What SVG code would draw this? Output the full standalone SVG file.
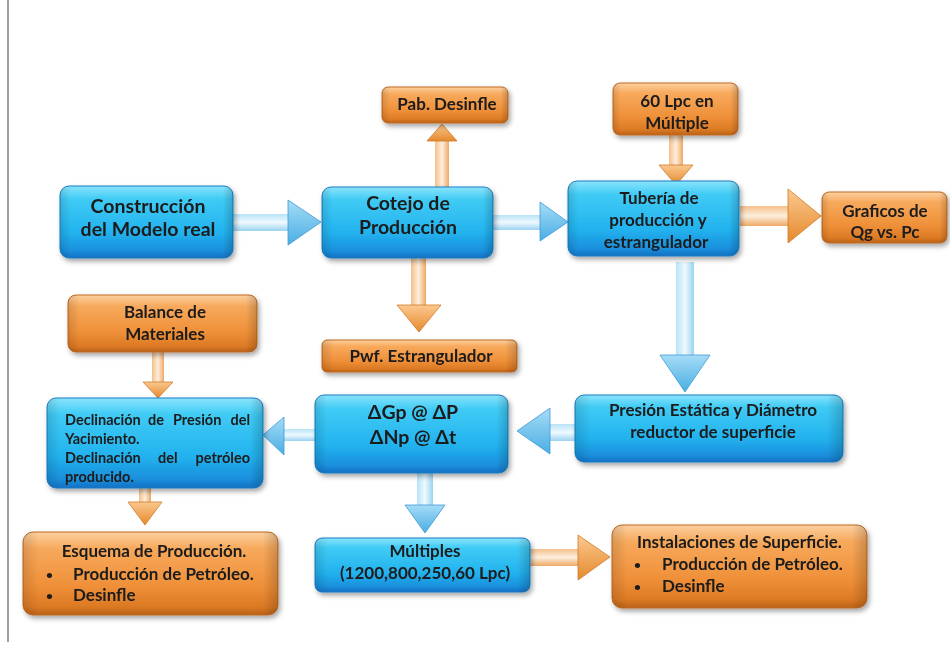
<svg xmlns="http://www.w3.org/2000/svg" width="950" height="649" viewBox="0 0 950 649">
<defs>
<linearGradient id="gBlue" x1="0" y1="0" x2="0" y2="1">
<stop offset="0" stop-color="#8ae4fc"/><stop offset="0.18" stop-color="#40cbf5"/><stop offset="0.65" stop-color="#22b2ee"/><stop offset="0.9" stop-color="#1a8fdc"/><stop offset="1" stop-color="#1670c4"/>
</linearGradient>
<linearGradient id="gOrange" x1="0" y1="0" x2="0" y2="1">
<stop offset="0" stop-color="#fcd0a0"/><stop offset="0.2" stop-color="#f7a95c"/><stop offset="0.65" stop-color="#ef9039"/><stop offset="0.9" stop-color="#dc7a24"/><stop offset="1" stop-color="#b9621a"/>
</linearGradient>
<linearGradient id="gEdge" x1="0" y1="0" x2="1" y2="0">
<stop offset="0" stop-color="#000" stop-opacity="0.12"/><stop offset="0.06" stop-color="#000" stop-opacity="0"/><stop offset="0.94" stop-color="#000" stop-opacity="0"/><stop offset="1" stop-color="#000" stop-opacity="0.18"/>
</linearGradient>
<linearGradient id="bShaftH" x1="0" y1="0" x2="0" y2="1">
<stop offset="0" stop-color="#b9e3f7"/><stop offset="0.5" stop-color="#eef9fe"/><stop offset="1" stop-color="#9ad3f0"/>
</linearGradient>
<linearGradient id="bShaftV" x1="0" y1="0" x2="1" y2="0">
<stop offset="0" stop-color="#b9e3f7"/><stop offset="0.5" stop-color="#eef9fe"/><stop offset="1" stop-color="#9ad3f0"/>
</linearGradient>
<linearGradient id="oShaftH" x1="0" y1="0" x2="0" y2="1">
<stop offset="0" stop-color="#f5c08a"/><stop offset="0.5" stop-color="#fdeedd"/><stop offset="1" stop-color="#eea864"/>
</linearGradient>
<linearGradient id="oShaftV" x1="0" y1="0" x2="1" y2="0">
<stop offset="0" stop-color="#f5c08a"/><stop offset="0.5" stop-color="#fdeedd"/><stop offset="1" stop-color="#eea864"/>
</linearGradient>
<linearGradient id="bHead" x1="0" y1="0" x2="0" y2="1">
<stop offset="0" stop-color="#a6dcf6"/><stop offset="1" stop-color="#4aaee4"/>
</linearGradient>
<linearGradient id="oHead" x1="0" y1="0" x2="0" y2="1">
<stop offset="0" stop-color="#fbc98f"/><stop offset="1" stop-color="#e5892d"/>
</linearGradient>
<filter id="sh" x="-10%" y="-20%" width="125%" height="150%">
<feDropShadow dx="2" dy="3" stdDeviation="2.5" flood-color="#000" flood-opacity="0.35"/>
</filter>
</defs>
<style>
.blue{fill:url(#gBlue);stroke:#1c7fc4;stroke-width:1}
.orange{fill:url(#gOrange);stroke:#c06a20;stroke-width:1}
.edge{fill:url(#gEdge);stroke:none}
.t{font-family:Lato,"Liberation Sans",sans-serif;font-weight:bold;fill:#1b1b1b;text-anchor:middle}
.l{font-family:Lato,"Liberation Sans",sans-serif;font-weight:bold;fill:#1b1b1b}
.e{text-anchor:end}
.big{font-size:19.5px}
.med{font-size:17px}
.sm{font-size:14.5px}
.bul{font-size:12px}
.bh{fill:url(#bHead);stroke:#3d9bd6;stroke-width:0.8}
.oh{fill:url(#oHead);stroke:#cf7a28;stroke-width:0.8}
.bsh{fill:url(#bShaftH)}
.bsv{fill:url(#bShaftV)}
.osh{fill:url(#oShaftH)}
.osv{fill:url(#oShaftV)}
</style>
<rect width="950" height="649" fill="#fff"/>
<line x1="8" y1="0" x2="8" y2="642" stroke="#a0a0a0" stroke-width="2"/>

<g id="connectors">
<rect class="bsh" x="233" y="214" width="57" height="17"/>
<polygon class="bh" points="288,200 321,222 288,245"/>
<rect class="bsh" x="493" y="215" width="49" height="15"/>
<polygon class="bh" points="540,202 568,222 540,241"/>
<rect class="osv" x="435" y="139" width="14" height="48"/>
<polygon class="oh" points="427,141 442,124 457,141"/>
<rect class="osv" x="669" y="135" width="14" height="32"/>
<polygon class="oh" points="659,165 676,185 693,165"/>
<rect class="osh" x="740" y="206" width="50" height="20"/>
<polygon class="oh" points="788,189 821,216 788,243"/>
<rect class="osv" x="411" y="258" width="15" height="49"/>
<polygon class="oh" points="397,305 419,332 441,305"/>
<rect class="bsv" x="676" y="262" width="18" height="95"/>
<polygon class="bh" points="660,355 685,392 710,355"/>
<rect class="bsh" x="548" y="424" width="27" height="17"/>
<polygon class="bh" points="550,408 517,431 550,454"/>
<rect class="bsh" x="281" y="429" width="34" height="12"/>
<polygon class="bh" points="284,417 263,435 284,455"/>
<rect class="osv" x="152" y="352" width="12" height="32"/>
<polygon class="oh" points="143,382 158,398 173,382"/>
<rect class="osv" x="139" y="488" width="12" height="16"/>
<polygon class="oh" points="128,502 145,525 162,502"/>
<rect class="bsv" x="417" y="473" width="16" height="34"/>
<polygon class="bh" points="405,505 425,533 445,505"/>
<rect class="osh" x="530" y="549" width="50" height="17"/>
<polygon class="oh" points="578,535 610,557 578,580"/>
</g>

<g id="n-construccion" filter="url(#sh)">
<rect class="blue" x="60" y="186" width="173" height="72" rx="9"/>
<rect class="edge" x="60" y="186" width="173" height="72" rx="9"/>
<text class="t big" x="148" y="213">Construcción</text>
<text class="t big" x="148" y="236">del Modelo real</text>
</g>

<g id="n-cotejo" filter="url(#sh)">
<rect class="blue" x="322" y="187" width="171" height="71" rx="9"/>
<rect class="edge" x="322" y="187" width="171" height="71" rx="9"/>
<text class="t big" x="408" y="210">Cotejo de</text>
<text class="t big" x="408" y="234">Producción</text>
</g>

<g id="n-pab" filter="url(#sh)">
<rect class="orange" x="382" y="87" width="126" height="36" rx="6"/>
<rect class="edge" x="382" y="87" width="126" height="36" rx="6"/>
<text class="t med" x="447" y="110">Pab. Desinfle</text>
</g>

<g id="n-60lpc" filter="url(#sh)">
<rect class="orange" x="613" y="83" width="125" height="52" rx="7"/>
<rect class="edge" x="613" y="83" width="125" height="52" rx="7"/>
<text class="t med" x="677" y="107">60 Lpc en</text>
<text class="t med" x="677" y="129">Múltiple</text>
</g>

<g id="n-tuberia" filter="url(#sh)">
<rect class="blue" x="568" y="181" width="171" height="75" rx="9"/>
<rect class="edge" x="568" y="181" width="171" height="75" rx="9"/>
<text class="t med" x="659" y="204">Tubería de</text>
<text class="t med" x="658" y="226">producción y</text>
<text class="t med" x="656" y="248">estrangulador</text>
</g>

<g id="n-graficos" filter="url(#sh)">
<rect class="orange" x="822" y="192" width="125" height="51" rx="7"/>
<rect class="edge" x="822" y="192" width="125" height="51" rx="7"/>
<text class="t med" x="885" y="217">Graficos de</text>
<text class="t med" x="885" y="238">Qg vs. Pc</text>
</g>

<g id="n-pwf" filter="url(#sh)">
<rect class="orange" x="322" y="340" width="195" height="32" rx="5"/>
<rect class="edge" x="322" y="340" width="195" height="32" rx="5"/>
<text class="t med" x="421" y="362">Pwf. Estrangulador</text>
</g>

<g id="n-balance" filter="url(#sh)">
<rect class="orange" x="68" y="295" width="189" height="57" rx="8"/>
<rect class="edge" x="68" y="295" width="189" height="57" rx="8"/>
<text class="t med" x="165" y="318">Balance de</text>
<text class="t med" x="165" y="340">Materiales</text>
</g>

<g id="n-presion" filter="url(#sh)">
<rect class="blue" x="575" y="395" width="268" height="67" rx="9"/>
<rect class="edge" x="575" y="395" width="268" height="67" rx="9"/>
<text class="t med" x="713" y="416">Presión Estática y Diámetro</text>
<text class="t med" x="713" y="438">reductor de superficie</text>
</g>

<g id="n-delta" filter="url(#sh)">
<rect class="blue" x="315" y="395" width="193" height="78" rx="9"/>
<rect class="edge" x="315" y="395" width="193" height="78" rx="9"/>
<text class="t big" x="413" y="419">ΔGp @ ΔP</text>
<text class="t big" x="413" y="444">ΔNp @ Δt</text>
</g>

<g id="n-declinacion" filter="url(#sh)">
<rect class="blue" x="47" y="398" width="216" height="90" rx="9"/>
<rect class="edge" x="47" y="398" width="216" height="90" rx="9"/>
<text class="l sm" x="65" y="425">Declinación</text>
<text class="l sm" x="148" y="425">de</text>
<text class="l sm" x="173" y="425">Presión</text>
<text class="l sm e" x="250" y="425">del</text>
<text class="l sm" x="65" y="444">Yacimiento.</text>
<text class="l sm" x="65" y="463">Declinación</text>
<text class="l sm" x="158" y="463">del</text>
<text class="l sm e" x="250" y="463">petróleo</text>
<text class="l sm" x="65" y="482">producido.</text>
</g>

<g id="n-esquema" filter="url(#sh)">
<rect class="orange" x="23" y="532" width="255" height="83" rx="10"/>
<rect class="edge" x="23" y="532" width="255" height="83" rx="10"/>
<text class="t med" x="154" y="557">Esquema de Producción.</text>
<text class="l bul" x="46" y="579">•</text>
<text class="l med" x="73" y="580">Producción de Petróleo.</text>
<text class="l bul" x="46" y="600">•</text>
<text class="l med" x="73" y="601">Desinfle</text>
</g>

<g id="n-multiples" filter="url(#sh)">
<rect class="blue" x="315" y="538" width="215" height="54" rx="7"/>
<rect class="edge" x="315" y="538" width="215" height="54" rx="7"/>
<text class="t med" x="425" y="557">Múltiples</text>
<text class="t med" x="425" y="579">(1200,800,250,60 Lpc)</text>
</g>

<g id="n-instalaciones" filter="url(#sh)">
<rect class="orange" x="612" y="525" width="255" height="83" rx="10"/>
<rect class="edge" x="612" y="525" width="255" height="83" rx="10"/>
<text class="l med" x="637" y="548">Instalaciones de Superficie.</text>
<text class="l bul" x="634" y="569">•</text>
<text class="l med" x="662" y="570">Producción de Petróleo.</text>
<text class="l bul" x="634" y="591">•</text>
<text class="l med" x="662" y="592">Desinfle</text>
</g>
</svg>
